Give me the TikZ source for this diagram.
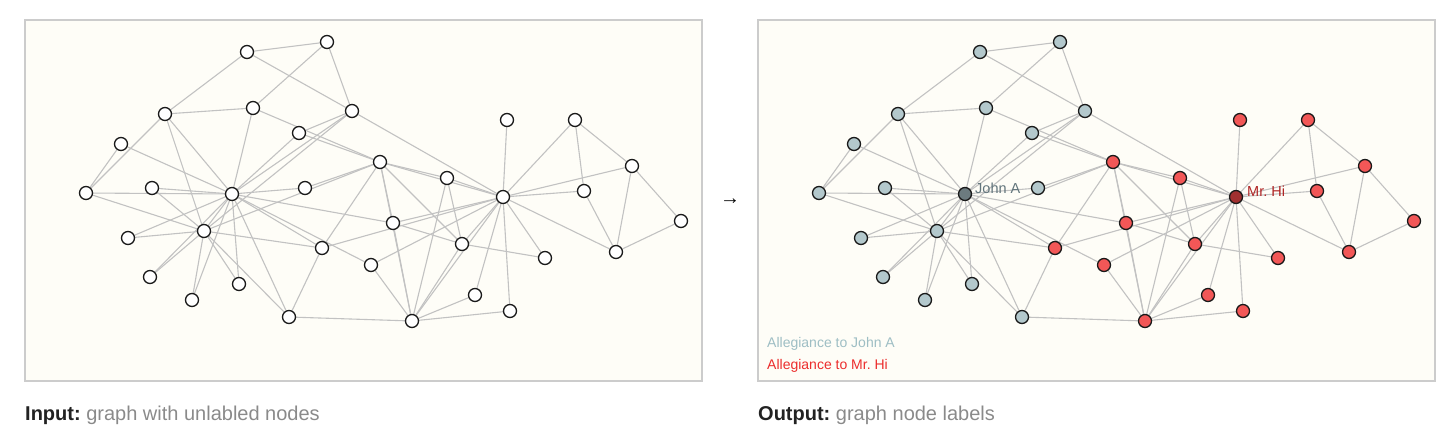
\documentclass[tikz,border=0pt]{standalone}
\usepackage{fontspec}
\setmainfont{Liberation Sans}
\frenchspacing

\definecolor{panelbg}{HTML}{FEFDF7}
\definecolor{framegray}{HTML}{CCCCCC}
\definecolor{tiegray}{HTML}{C2C2C2}
\definecolor{nodeline}{HTML}{1A1A1A}
\definecolor{johnfill}{HTML}{B3C8CC}
\definecolor{hifill}{HTML}{F25757}
\definecolor{johnhubfill}{HTML}{6C7B7F}
\definecolor{hihubfill}{HTML}{A13030}
\definecolor{johntext}{HTML}{62757C}
\definecolor{hitext}{HTML}{B02525}
\definecolor{legendblue}{HTML}{9EBEC4}
\definecolor{legendred}{HTML}{EC2D2D}
\definecolor{captionblack}{HTML}{222222}
\definecolor{captiongray}{HTML}{8A8A8A}

\pgfdeclarelayer{panel}
\pgfdeclarelayer{ties}
\pgfsetlayers{panel,ties,main}

\begin{document}
\begin{tikzpicture}[x=1pt,y=-1pt,
  member/.style={circle,draw=nodeline,line width=1.3pt,minimum size=13pt,inner sep=0pt},
  plain/.style={member,fill=white},
  johnside/.style={member,fill=johnfill},
  hiside/.style={member,fill=hifill},
  johnhub/.style={member,fill=johnhubfill},
  hihub/.style={member,fill=hihubfill},
  tie/.style={draw=tiegray,line width=1.1pt},
  frame/.style={draw=framegray,fill=panelbg,line width=1.3pt},
  words/.style={anchor=base west,inner sep=0pt}]
\useasboundingbox (0,0) rectangle (1456,431);

% the two panels
\begin{pgfonlayer}{panel}
\draw[frame] (25,20) rectangle (702,381);
\draw[frame] (758,20) rectangle (1435,381);
\end{pgfonlayer}

% club members, input panel and output panel
\foreach \id/\x/\y/\side in {
  0/503/197/hihub, 1/412/321/hiside, 2/380/162/hiside, 3/462/244/hiside,
  4/575/120/hiside, 5/616/252/hiside, 6/632/166/hiside, 7/447/178/hiside,
  8/322/248/hiside, 9/305/188/johnside, 10/584/191/hiside, 11/507/120/hiside,
  12/545/258/hiside, 13/393/223/hiside, 14/152/188/johnside, 15/128/238/johnside,
  16/681/221/hiside, 17/475/295/hiside, 18/150/277/johnside, 19/371/265/hiside,
  20/239/284/johnside, 21/510/311/hiside, 22/192/300/johnside, 23/165/114/johnside,
  24/327/42/johnside, 25/247/52/johnside, 26/121/144/johnside, 27/253/108/johnside,
  28/299/133/johnside, 29/86/193/johnside, 30/289/317/johnside, 31/352/111/johnside,
  32/204/231/johnside, 33/232/194/johnhub}
{
  \node[plain] (in\id) at (\x,\y) {};
  \node[\side] (out\id) at (\x+733,\y) {};
}

% friendships
\begin{pgfonlayer}{ties}
\foreach \a/\b in {
  0/1, 0/2, 0/3, 0/4, 0/5, 0/6, 0/7, 0/8, 0/10, 0/11, 0/12, 0/13, 0/17, 0/19, 0/21, 0/31,
  1/2, 1/3, 1/7, 1/13, 1/17, 1/19, 1/21, 1/30,
  2/3, 2/7, 2/8, 2/9, 2/13, 2/27, 2/28, 2/32,
  3/7, 3/12, 3/13, 4/6, 4/10, 5/6, 5/10, 5/16, 6/16,
  8/30, 8/32, 8/33, 9/33, 13/33,
  14/32, 14/33, 15/32, 15/33, 18/32, 18/33, 19/33, 20/32, 20/33, 22/32, 22/33,
  23/25, 23/27, 23/29, 23/32, 23/33, 24/25, 24/27, 24/31, 25/31,
  26/29, 26/33, 27/33, 28/31, 28/33, 29/32, 29/33, 30/32, 30/33,
  31/32, 31/33, 32/33}
{
  \draw[tie] (in\a) -- (in\b);
  \draw[tie] (out\a) -- (out\b);
}
\end{pgfonlayer}

% leaders
\node[words,text=johntext,font=\fontsize{14.5}{17}\selectfont] (johnname) at (975,193) {John A};
\node[words,text=hitext,font=\fontsize{14.5}{17}\selectfont] (hiname) at (1247,196) {Mr. Hi};

% legend
\node[words,text=legendblue,font=\fontsize{14}{17}\selectfont] (legendjohn) at (767,347) {Allegiance to John A};
\node[words,text=legendred,font=\fontsize{14}{17}\selectfont] (legendhi) at (767,369) {Allegiance to Mr. Hi};

\node[inner sep=0pt,font=\fontsize{20}{24}\selectfont] (flow) at (730,202) {→};

% captions
\node[words,font=\fontsize{20}{24}\selectfont] (incaption) at (25,420.5)
  {\textcolor{captionblack}{\textbf{Input:}} \textcolor{captiongray}{graph with unlabled nodes}};
\node[words,font=\fontsize{20}{24}\selectfont] (outcaption) at (758,420.5)
  {\textcolor{captionblack}{\textbf{Output:}} \textcolor{captiongray}{graph node labels}};
\end{tikzpicture}
\end{document}
